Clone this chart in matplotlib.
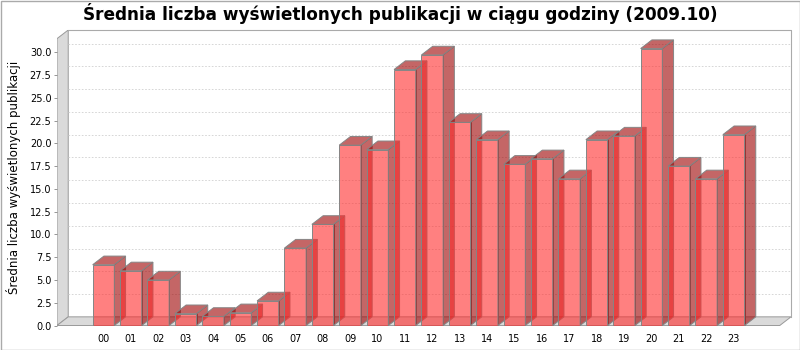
import matplotlib
matplotlib.use("Agg")
from matplotlib import pyplot as plt
from matplotlib.patches import Rectangle

hours = ["%02d" % h for h in range(24)]
views = [6.67, 6.0, 5.0, 1.3, 1.0, 1.4, 2.7, 8.5, 11.1, 19.8, 19.3, 28.1,
         29.7, 22.3, 20.4, 17.7, 18.3, 16.1, 20.4, 20.8, 30.4, 17.5, 16.1, 20.95]
y_ticks = [i * 2.5 for i in range(13)]

title = "Średnia liczba wyświetlonych publikacji w ciągu godziny (2009.10)"
y_label = "Średnia liczba wyświetlonych publikacji"

# depth of the 3D effect in data units
dx = 0.41
dy = 0.95
bar_w = 0.79

fig = plt.figure(figsize=(8, 3.5), dpi=100)
ax = fig.add_axes([57 / 800, 24.5 / 350, 734 / 800, 295.5 / 350])
x0 = (57 - 103.5) / 27.4
x1 = (791 - 103.5) / 27.4
ytop = 295.5 / 9.11
ax.set_xlim(x0, x1)
ax.set_ylim(0, ytop)
for s in ax.spines.values():
    s.set_visible(False)

edge = "#858585"
# left wall and floor
ax.fill([x0, x0 + dx, x0 + dx, x0], [0, dy, ytop, ytop - dy],
        facecolor="#dadada", edgecolor="#999999", lw=0.7, zorder=1)
ax.fill([x0, x1 - dx, x1, x0 + dx], [0, 0, dy, dy],
        facecolor="#dadada", edgecolor="#999999", lw=0.7, zorder=1)
ax.plot([x0 + dx, x1, x1], [ytop, ytop, dy], color="#aaaaaa", lw=0.8,
        clip_on=False, zorder=1)

# gridlines on the back wall
for v in y_ticks[1:]:
    ax.plot([x0 + dx, x1], [v + dy, v + dy], color="#d0d0d0", lw=0.6,
            dashes=(2, 2), zorder=1)

front = (1.0, 0.17, 0.17, 0.6)
dark = (0.62, 0.0, 0.0, 0.6)
xs = list(range(len(hours)))
for i, v in zip(xs, views):
    l = i - bar_w / 2
    r = i + bar_w / 2
    ax.bar(i, v, width=bar_w, color=front, edgecolor=edge, lw=0.7, zorder=2 + i)
    ax.fill([l, l + dx, r + dx, r], [v, v + dy, v + dy, v],
            facecolor=dark, edgecolor=edge, lw=0.7, zorder=2 + i)
    ax.fill([r, r + dx, r + dx, r], [0, dy, v + dy, v],
            facecolor=dark, edgecolor=edge, lw=0.7, zorder=2 + i)

ax.set_yticks(y_ticks)
ax.set_yticklabels(["%.1f" % t for t in y_ticks])
ax.set_xticks(xs)
ax.set_xticklabels(hours)
ax.tick_params(axis="y", length=2, width=0.6, color=edge, labelsize=7, pad=2)
ax.tick_params(axis="x", length=0, labelsize=7, pad=6)
ax.set_ylabel(y_label, fontsize=8.5, labelpad=6)

fig.text(0.5, 1 - 13 / 350, title, ha="center", va="center",
         fontsize=12.2, fontweight="bold")
fig.patches.append(Rectangle((0.5 / 800, 0.5 / 350), 799 / 800, 349 / 350,
                             transform=fig.transFigure, fill=False,
                             edgecolor="#aaaaaa", lw=1))

fig.savefig("out.png", dpi=100)
